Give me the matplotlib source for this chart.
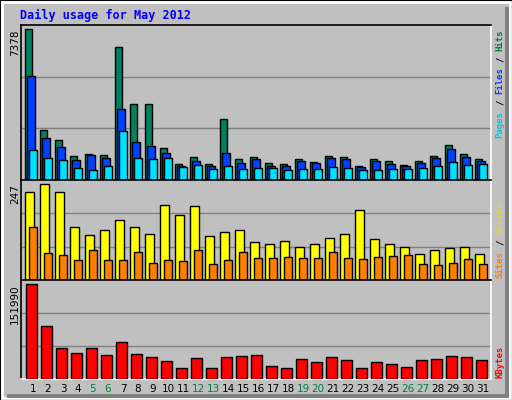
import numpy as np
import matplotlib
matplotlib.use('Agg')
import matplotlib.pyplot as plt
from matplotlib.patches import Rectangle

days = list(range(1, 32))
weekend = [5, 6, 12, 13, 19, 20, 26, 27]

hits = [7378, 2470, 1970, 1152, 1269, 1218, 6527, 3722, 3722, 1569, 768, 1118, 768, 2971, 1018,
        1118, 818, 768, 1018, 868, 1168, 1118, 668, 1018, 918, 718, 918, 1168, 1719, 1269, 1018]
files = [5074, 2070, 1619, 968, 1218, 1068, 3472, 1870, 1669, 1319, 668, 918, 668, 1319, 818,
         1018, 668, 668, 918, 818, 1068, 1018, 618, 918, 768, 668, 818, 1068, 1519, 1118, 918]
pages = [1469, 1068, 968, 568, 467, 668, 2420, 1068, 1018, 1068, 618, 718, 517, 668, 517,
         568, 568, 467, 517, 517, 618, 568, 467, 467, 517, 517, 568, 668, 868, 718, 768]
visits = [226, 247, 226, 135, 116, 129, 153, 135, 119, 193, 167, 191, 113, 124, 129,
          97, 92, 100, 86, 92, 108, 119, 180, 105, 92, 84, 68, 78, 81, 84, 68]
sites = [137, 70, 65, 52, 76, 52, 52, 73, 44, 52, 49, 76, 41, 52, 73,
         57, 57, 60, 57, 57, 73, 57, 54, 60, 62, 65, 41, 38, 44, 54, 41]
kbytes = [151990, 85425, 48815, 42158, 48815, 38830, 58800, 40494, 35502, 28845, 17196, 33838,
          17196, 35502, 37166, 38830, 20525, 17196, 32174, 27181, 35502, 30509, 17196, 27181,
          23853, 18860, 30509, 32174, 37166, 35502, 30509]

BG = '#c0c0c0'
W, H = 512, 400
fig = plt.figure(figsize=(W / 100, H / 100), dpi=100, facecolor=BG)
x = np.array(days)


def box(l, t, r, b):
    return [l / W, 1 - b / H, (r - l) / W, (b - t) / H]


def panel(top, bottom):
    ax = fig.add_axes(box(20.7, top, 490.7, bottom))
    ax.set_facecolor(BG)
    ax.set_xlim(0.18, 31.51)
    for s in ax.spines.values():
        s.set_linewidth(1.2)
    ax.spines['top'].set_color('black')
    ax.spines['left'].set_color('black')
    ax.spines['right'].set_color('white')
    ax.spines['bottom'].set_color('white')
    ax.set_xticks([])
    ax.set_yticks([])
    return ax


def bars(ax, vals, off, width, color):
    ax.bar(x + off, vals, width, color=color, edgecolor='black', linewidth=1.0, zorder=3)


def grid(ax, top):
    for f in (1 / 3, 2 / 3):
        ax.axhline(top * f, color='#808080', lw=1, zorder=1)


CH = 5.45  # px per monospace char


def vlabel(xp, yp, parts, size=6.5):
    # stack pieces bottom -> top
    pos = yp
    for t, c in parts:
        s = t.strip()
        lead = len(t) - len(t.lstrip())
        fig.text(xp / W, 1 - (pos - lead * CH) / H, s, rotation=90, ha='center', va='bottom',
                 color=c, family='DejaVu Sans Mono', fontsize=size, fontweight='bold')
        pos -= len(t) * CH


ax1 = panel(25, 180)
top1 = 7378 * 151.7 / 147.4
ax1.set_ylim(0, top1)
grid(ax1, top1)
bars(ax1, hits, -0.28, 0.47, '#00805c')
bars(ax1, files, -0.13, 0.49, '#0040ff')
bars(ax1, pages, 0.0, 0.49, '#00e0ff')

ax2 = panel(180, 280)
top2 = 247 * 288 / 277
ax2.set_ylim(0, top2)
grid(ax2, top2)
bars(ax2, visits, -0.23, 0.55, '#ffff00')
bars(ax2, sites, 0.0, 0.53, '#ff8000')

ax3 = panel(280, 379)
top3 = 151990 * 285 / 274
ax3.set_ylim(0, top3)
grid(ax3, top3)
bars(ax3, kbytes, -0.1, 0.69, '#ff0000')

for d in days:
    px = 33 + 15 * (d - 1)
    fig.text(px / W, 1 - 389 / H, str(d), ha='center', va='center', fontsize=7.5,
             color='#008040' if d in weekend else 'black')

fig.text(15 / W, 1 - 29 / H, str(max(hits)), rotation=90, ha='center', va='top', fontsize=7.5)
fig.text(15 / W, 1 - 184 / H, str(max(visits)), rotation=90, ha='center', va='top', fontsize=7.5)
fig.text(15 / W, 1 - 284 / H, str(max(kbytes)), rotation=90, ha='center', va='top', fontsize=7.5)

vlabel(500, 138, [('Pages', '#00c8e0'), (' / ', 'black'), ('Files', '#0040ff'),
                  (' / ', 'black'), ('Hits', '#008040')])
vlabel(500, 278, [('Sites', '#ff8000'), (' / ', 'black'), ('Visits', '#e0e000')])
vlabel(500, 378, [('KBytes', '#ff0000')])

fig.text(20 / W, 1 - 15 / H, 'Daily usage for May 2012', ha='left', va='center', color='#0000ff',
         family='DejaVu Sans Mono', fontweight='bold', fontsize=8.5)

fig.patches.append(Rectangle((0, 0), 1, 1, transform=fig.transFigure, fill=False,
                             edgecolor='black', lw=1.5))
fig.patches.append(Rectangle((2 / W, 2 / H), 1 - 4 / W, 1 - 4 / H, transform=fig.transFigure,
                             fill=False, edgecolor='white', lw=2))
fig.patches.append(Rectangle((1 - 7 / W, 2 / H), 4 / W, 1 - 9 / H, transform=fig.transFigure,
                             color='#808080', lw=0))
fig.patches.append(Rectangle((7 / W, 2 / H), 1 - 10 / W, 4 / H, transform=fig.transFigure,
                             color='#808080', lw=0))

fig.savefig('out.png', dpi=100, facecolor=BG)
